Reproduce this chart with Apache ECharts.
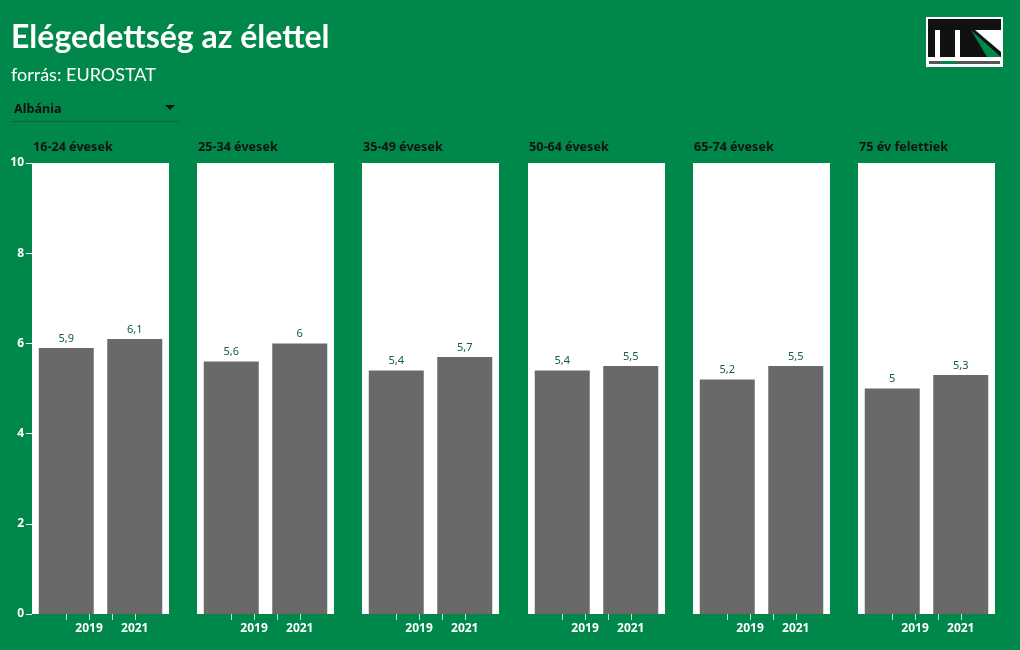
<!DOCTYPE html>
<html>
<head>
<meta charset="utf-8">
<script src="https://cdn.jsdelivr.net/npm/echarts@6/dist/echarts.min.js"></script>
<style>
html,body{margin:0;padding:0;background:#00884a;}
#c{width:1020px;height:650px;}
</style>
</head>
<body>
<div id="c"></div>
<script>
var groups = ['16-24 évesek', '25-34 évesek', '35-49 évesek', '50-64 évesek', '65-74 évesek', '75 év felettiek'];
var years = ['2019', '2021'];
var values2019 = [5.9, 5.6, 5.4, 5.4, 5.2, 5.0];
var values2021 = [6.1, 6.0, 5.7, 5.5, 5.5, 5.3];
var yTicks = [0, 2, 4, 6, 8, 10];

var FONT = '"Noto Sans", sans-serif';
var TFONT = 'Lato, "Noto Sans", sans-serif';
var chart = echarts.init(document.getElementById('c'), null, {renderer: 'canvas'});

var grids = [], xAxes = [], yAxes = [], series = [], graphics = [];
var panelLeft0 = 32, panelStep = 165.2, panelW = 137, panelTop = 163, panelH = 451;
var labelCats = ['a', 'b', years[0], 'c', years[1], 'd'];

groups.forEach(function (g, i) {
  var left = Math.round(panelLeft0 + i * panelStep);
  grids.push({left: left, top: panelTop, width: panelW, height: panelH, show: true,
    backgroundColor: '#ffffff', borderWidth: 0, containLabel: false});
  xAxes.push({type: 'category', gridIndex: i, data: years, boundaryGap: true,
    axisLine: {show: false}, axisTick: {show: false}, axisLabel: {show: false}});
  xAxes.push({type: 'category', gridIndex: i, data: labelCats, position: 'bottom',
    axisLine: {show: false},
    axisTick: {show: true, alignWithLabel: true, length: 6,
      lineStyle: {color: '#b9e6cc', width: 1},
      interval: function (idx) { return idx >= 1 && idx <= 4; }},
    axisLabel: {show: true, color: '#ffffff', fontFamily: FONT, fontWeight: 'bold', fontSize: 12,
      margin: 9,
      interval: function (idx) { return idx === 2 || idx === 4; }}});
  yAxes.push({type: 'value', gridIndex: i, min: yTicks[0], max: yTicks[yTicks.length - 1], interval: 2,
    axisLine: {show: false},
    axisTick: {show: i === 0, length: 6, lineStyle: {color: '#ffffff'}},
    axisLabel: {show: i === 0, color: '#ffffff', fontFamily: FONT, fontWeight: 'bold', fontSize: 12, margin: 8},
    splitLine: {show: false}});
  series.push({type: 'bar', xAxisIndex: i * 2, yAxisIndex: i,
    data: [values2019[i], values2021[i]], barWidth: 55,
    itemStyle: {color: '#696969'},
    label: {show: true, position: 'top', distance: 4, color: '#0f5c40', fontFamily: FONT, fontSize: 11,
      formatter: function (p) { return String(p.value).replace('.', ','); }}});
  graphics.push({type: 'text', left: left + 1, top: 141,
    style: {text: g, fill: '#111111', font: 'bold 12.6px ' + FONT}});
});

// dropdown
graphics.push({type: 'text', left: 14, top: 103, style: {text: 'Albánia', fill: '#111111', font: 'bold 12.6px ' + FONT}});
graphics.push({type: 'polygon', shape: {points: [[165, 105], [175, 105], [170, 110]]}, style: {fill: '#111111'}});
graphics.push({type: 'line', shape: {x1: 11, y1: 121.5, x2: 180, y2: 121.5}, style: {stroke: '#1f5e3f', lineWidth: 1}});

// logo
graphics.push({type: 'group', children: [
  {type: 'rect', shape: {x: 926, y: 17, width: 77, height: 50}, style: {fill: '#ffffff'}},
  {type: 'rect', shape: {x: 928, y: 19, width: 73, height: 38}, style: {fill: '#111111'}},
  {type: 'rect', shape: {x: 935, y: 30, width: 5, height: 27}, style: {fill: '#ffffff'}},
  {type: 'rect', shape: {x: 955, y: 30, width: 5, height: 27}, style: {fill: '#ffffff'}},
  {type: 'polygon', shape: {points: [[975, 30], [1001, 30], [1001, 52]]}, style: {fill: '#ffffff'}},
  {type: 'polygon', shape: {points: [[971, 30], [987, 57], [1001, 57]]}, style: {fill: '#00884a'}},
  {type: 'rect', shape: {x: 929, y: 61, width: 71, height: 3}, style: {fill: '#555555'}},
  {type: 'rect', shape: {x: 942, y: 61, width: 14, height: 3}, style: {fill: '#00884a'}}
]});

chart.setOption({
  backgroundColor: '#00884a',
  animation: false,
  title: {text: 'Elégedettség az élettel', subtext: 'forrás: EUROSTAT', left: 6, top: 17, itemGap: 12,
    textStyle: {color: '#ffffff', fontFamily: TFONT, fontWeight: 'bold', fontSize: 32},
    subtextStyle: {color: '#ffffff', fontFamily: TFONT, fontSize: 18}},
  grid: grids,
  xAxis: xAxes,
  yAxis: yAxes,
  series: series,
  graphic: graphics
});
</script>
</body>
</html>
